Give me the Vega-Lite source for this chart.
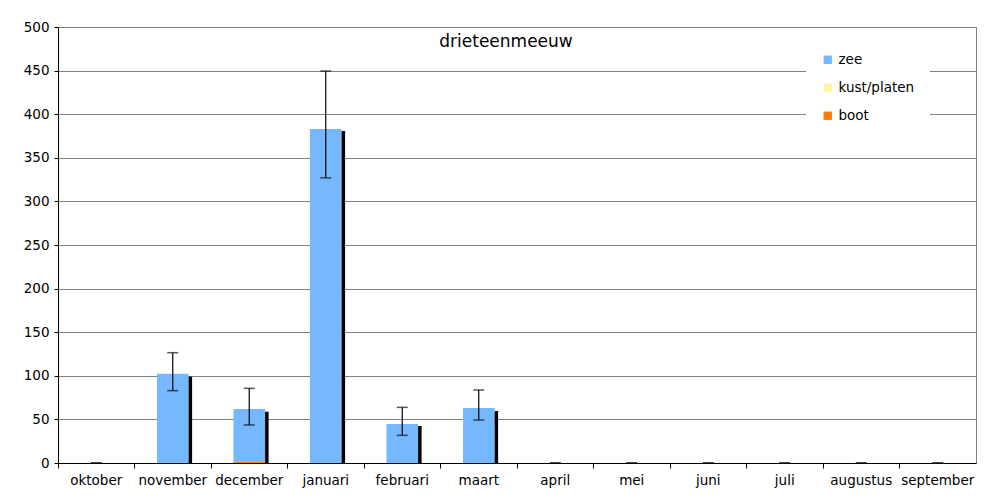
{
  "$schema": "https://vega.github.io/schema/vega-lite/v6.json",
  "width": 918,
  "height": 436,
  "autosize": "none",
  "padding": {"left": 58, "top": 27, "right": 25, "bottom": 37},
  "background": "white",
  "config": {"view": {"stroke": "#808080", "strokeWidth": 1}, "font": "DejaVu Sans"},
  "title": {"text": "drieteenmeeuw", "orient": "top", "anchor": "middle", "offset": -48, "dx": -11, "fontSize": 17, "fontWeight": "normal", "font": "DejaVu Sans", "color": "black", "baseline": "bottom"},
  "datasets": {
    "stapel": [
      {"maand": "november", "reeks": "zee", "aantal": 102.4, "volgorde": 3},
      {"maand": "december", "reeks": "zee", "aantal": 60.5, "volgorde": 3},
      {"maand": "december", "reeks": "boot", "aantal": 1.5, "volgorde": 1},
      {"maand": "januari", "reeks": "zee", "aantal": 383, "volgorde": 3},
      {"maand": "februari", "reeks": "zee", "aantal": 44.7, "volgorde": 3},
      {"maand": "maart", "reeks": "zee", "aantal": 63, "volgorde": 3}
    ],
    "maanden": [
      {"maand": "oktober", "lijn": 0, "laag": 0, "hoog": 0},
      {"maand": "november", "lijn": 99, "laag": 83, "hoog": 126.5},
      {"maand": "december", "lijn": 58.8, "laag": 43.6, "hoog": 85.6},
      {"maand": "januari", "lijn": 380.7, "laag": 327, "hoog": 449.5},
      {"maand": "februari", "lijn": 42.4, "laag": 31.7, "hoog": 63.8},
      {"maand": "maart", "lijn": 59.6, "laag": 49.3, "hoog": 83.7},
      {"maand": "april", "lijn": 0, "laag": 0, "hoog": 0},
      {"maand": "mei", "lijn": 0, "laag": 0, "hoog": 0},
      {"maand": "juni", "lijn": 0, "laag": 0, "hoog": 0},
      {"maand": "juli", "lijn": 0, "laag": 0, "hoog": 0},
      {"maand": "augustus", "lijn": 0, "laag": 0, "hoog": 0},
      {"maand": "september", "lijn": 0, "laag": 0, "hoog": 0}
    ]
  },
  "encoding": {
    "x": {
      "field": "maand",
      "type": "nominal",
      "sort": null,
      "scale": {"domain": ["oktober","november","december","januari","februari","maart","april","mei","juni","juli","augustus","september"], "paddingInner": 0, "paddingOuter": 0},
      "axis": {"title": null, "labelAngle": 0, "bandPosition": 0, "ticks": true, "tickSize": 5, "tickColor": "black", "domainColor": "black", "labelFontSize": 13.5, "labelColor": "black", "labelPadding": 5, "grid": false}
    }
  },
  "layer": [
    {
      "data": {"name": "stapel"},
      "mark": {"type": "bar", "width": {"band": 0.413}},
      "encoding": {
        "y": {"field": "aantal", "type": "quantitative", "stack": "zero",
          "scale": {"domain": [0, 500], "nice": false},
          "axis": {"title": null, "values": [0,50,100,150,200,250,300,350,400,450,500], "grid": true, "gridColor": "#808080", "gridWidth": 1, "domainColor": "black", "tickColor": "black", "tickSize": 4, "labelFontSize": 13.5, "labelColor": "black", "labelPadding": 5}},
        "color": {"field": "reeks", "type": "nominal",
          "scale": {"domain": ["zee", "kust/platen", "boot"], "range": ["#75B8FF", "#FFF5A0", "#FF7A00"]},
          "legend": {"orient": "none", "legendX": 748, "legendY": 11, "title": null, "symbolType": "square", "symbolSize": 70, "symbolStrokeWidth": 0, "labelFontSize": 13.5, "labelColor": "black", "rowPadding": 13, "fillColor": "white", "padding": 15, "labelOffset": 4}},
        "order": {"field": "volgorde", "type": "quantitative"}
      }
    },
    {
      "data": {"name": "maanden"},
      "mark": {"type": "bar", "color": "black", "width": 3.5, "xOffset": 17.6},
      "encoding": {"y": {"field": "lijn", "type": "quantitative", "title": null}}
    },
    {
      "data": {"name": "maanden"},
      "mark": {"type": "rule", "color": "black", "strokeWidth": 1.2},
      "encoding": {"y": {"field": "laag", "type": "quantitative", "title": null}, "y2": {"field": "hoog"}}
    },
    {
      "data": {"name": "maanden"},
      "mark": {"type": "tick", "color": "#111111", "size": 11, "thickness": 1.5},
      "encoding": {"y": {"field": "laag", "type": "quantitative", "title": null}}
    },
    {
      "data": {"name": "maanden"},
      "mark": {"type": "tick", "color": "#111111", "size": 11, "thickness": 1.5},
      "encoding": {"y": {"field": "hoog", "type": "quantitative", "title": null}}
    }
  ]
}
